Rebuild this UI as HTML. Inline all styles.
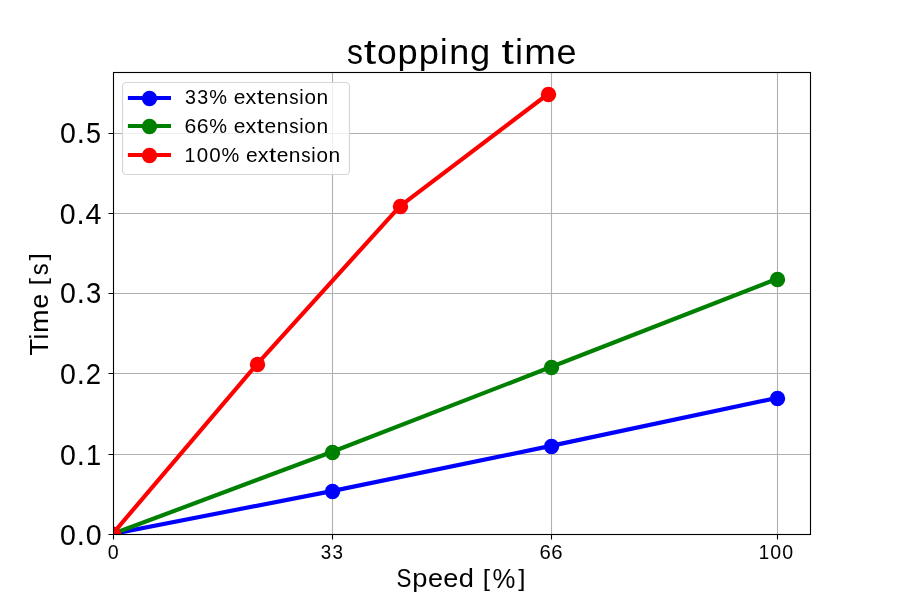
<!DOCTYPE html>
<html><head><meta charset="utf-8"><title>stopping time</title>
<style>html,body{margin:0;padding:0;background:#fff;}body{width:900px;height:600px;overflow:hidden;}svg{display:block;will-change:transform;}text{font-family:"Liberation Sans",sans-serif;fill:#000;}</style></head><body>
<svg width="900" height="600" viewBox="0 0 900 600">
<defs><clipPath id="ax"><rect x="113" y="72" width="697" height="462"/></clipPath></defs>
<rect x="0" y="0" width="900" height="600" fill="#fff"/>
<path d="M332.5 72V534 M551.5 72V534 M777.5 72V534 M113 454.5H810 M113 373.5H810 M113 293.5H810 M113 213.5H810 M113 133.5H810" stroke="#b0b0b0" stroke-width="1.11" fill="none"/>
<path d="M113.5 534V539.5 M332.5 534V539.5 M551.5 534V539.5 M777.5 534V539.5 M108.5 534.5H114 M108.5 454.5H114 M108.5 373.5H114 M108.5 293.5H114 M108.5 213.5H114 M108.5 133.5H114" stroke="#000" stroke-width="1.11" fill="none"/>
<g clip-path="url(#ax)">
<path d="M112.5 534 L331.714 491.148 L550.929 445.904 L776.786 397.977" stroke="#0000ff" stroke-width="4.1667" fill="none" stroke-linejoin="round" stroke-linecap="square"/>
<circle cx="113.5" cy="534.5" r="7.72" fill="#0000ff"/>
<circle cx="332.5" cy="491.5" r="7.72" fill="#0000ff"/>
<circle cx="551.5" cy="446.5" r="7.72" fill="#0000ff"/>
<circle cx="777.5" cy="398.5" r="7.72" fill="#0000ff"/>
<path d="M112.5 534 L331.714 451.998 L550.929 367.001 L776.786 278.953" stroke="#008000" stroke-width="4.1667" fill="none" stroke-linejoin="round" stroke-linecap="square"/>
<circle cx="113.5" cy="534.5" r="7.72" fill="#008000"/>
<circle cx="332.5" cy="452.5" r="7.72" fill="#008000"/>
<circle cx="551.5" cy="367.5" r="7.72" fill="#008000"/>
<circle cx="777.5" cy="279.5" r="7.72" fill="#008000"/>
<path d="M112.5 534 L257.049 364.046 L400.069 206.047 L548.072 94" stroke="#ff0000" stroke-width="4.1667" fill="none" stroke-linejoin="round" stroke-linecap="square"/>
<circle cx="113.5" cy="534.5" r="7.72" fill="#ff0000"/>
<circle cx="257.5" cy="364.5" r="7.72" fill="#ff0000"/>
<circle cx="400.5" cy="206.5" r="7.72" fill="#ff0000"/>
<circle cx="548.5" cy="94.5" r="7.72" fill="#ff0000"/>
</g>
<rect x="113.5" y="72.5" width="697" height="462" fill="none" stroke="#000" stroke-width="1.11"/>
<rect x="122.5" y="82.5" width="227" height="92" rx="3.9" ry="3.9" fill="#fff" fill-opacity="0.8" stroke="#d6d6d6" stroke-width="1.2"/>
<path d="M127.9 98.0H171" stroke="#0000ff" stroke-width="4.1667"/>
<circle cx="149.5" cy="98.5" r="7.72" fill="#0000ff"/>
<path d="M127.9 126.0H171" stroke="#008000" stroke-width="4.1667"/>
<circle cx="149.5" cy="126.5" r="7.72" fill="#008000"/>
<path d="M127.9 155.0H171" stroke="#ff0000" stroke-width="4.1667"/>
<circle cx="149.5" cy="155.5" r="7.72" fill="#ff0000"/>
<g font-size="33.333"><text transform="matrix(0.959 0 0 1.051 347.011 64.255)">s</text><text transform="matrix(1.337 0 0 1.073 363.681 63.846)">t</text><text transform="matrix(1.063 0 0 1.048 376.88 64.256)">o</text><text transform="matrix(1.088 0 0 1.031 397.613 63.928)">p</text><text transform="matrix(1.088 0 0 1.031 418.772 63.928)">p</text><text transform="matrix(1.022 0 0 1.049 440.102 64.125)">i</text><text transform="matrix(1.078 0 0 1.041 449.142 64.125)">n</text><text transform="matrix(1.087 0 0 1.032 469.945 63.919)">g</text><text transform="matrix(1.337 0 0 1.073 501.602 63.846)">t</text><text transform="matrix(1.022 0 0 1.049 515.313 64.125)">i</text><text transform="matrix(1.139 0 0 1.041 524.217 64.125)">m</text><text transform="matrix(1.08 0 0 1.048 556.492 64.256)">e</text></g>
<g font-size="25"><text transform="matrix(0.894 0 0 1.068 396.485 587.487)">S</text><text transform="matrix(1.091 0 0 1.031 412.276 587.247)">p</text><text transform="matrix(1.083 0 0 1.048 427.898 587.492)">e</text><text transform="matrix(1.083 0 0 1.048 443.318 587.492)">e</text><text transform="matrix(1.09 0 0 1.054 458.743 587.491)">d</text><text transform="matrix(1.044 0 0 0.957 482.672 585.728)">[</text><text transform="matrix(1.029 0 0 1.081 492.623 587.59)">%</text><text transform="matrix(1.044 0 0 0.957 518.203 585.728)">]</text></g>
<g transform="rotate(-90)" font-size="25"><text transform="matrix(1.091 0 0 1.06 -355.41 47.996)">T</text><text transform="matrix(1.022 0 0 1.049 -339.576 47.996)">i</text><text transform="matrix(1.139 0 0 1.041 -332.898 47.996)">m</text><text transform="matrix(1.08 0 0 1.048 -308.692 48.094)">e</text><text transform="matrix(1.042 0 0 0.957 -285.305 46.33)">[</text><text transform="matrix(0.959 0 0 1.051 -275.155 48.094)">s</text><text transform="matrix(1.042 0 0 0.957 -260.592 46.33)">]</text></g>
<g font-size="27.778"><text transform="matrix(1.028 0 0 1.068 59.885 544.932)">0</text><text transform="matrix(1.055 0 0 1.16 76.666 544.829)">.</text><text transform="matrix(1.028 0 0 1.068 85.725 544.932)">0</text></g>
<g font-size="27.778"><text transform="matrix(1.028 0 0 1.068 59.885 464.72)">0</text><text transform="matrix(1.055 0 0 1.16 76.666 464.616)">.</text><text transform="matrix(0.982 0 0 1.06 85.954 464.616)">1</text></g>
<g font-size="27.778"><text transform="matrix(1.028 0 0 1.068 60.085 383.728)">0</text><text transform="matrix(1.055 0 0 1.16 76.866 383.624)">.</text><text transform="matrix(0.991 0 0 1.063 85.855 383.624)">2</text></g>
<g font-size="27.778"><text transform="matrix(1.028 0 0 1.068 59.885 303.334)">0</text><text transform="matrix(1.055 0 0 1.16 76.666 303.231)">.</text><text transform="matrix(0.987 0 0 1.068 86.074 303.334)">3</text></g>
<g font-size="27.778"><text transform="matrix(1.028 0 0 1.068 59.685 223.72)">0</text><text transform="matrix(1.055 0 0 1.16 76.466 223.616)">.</text><text transform="matrix(1.028 0 0 1.06 85.522 223.616)">4</text></g>
<g font-size="27.778"><text transform="matrix(1.028 0 0 1.068 59.885 143.32)">0</text><text transform="matrix(1.055 0 0 1.16 76.666 143.216)">.</text><text transform="matrix(0.97 0 0 1.065 86.066 143.321)">5</text></g>
<g font-size="18.584"><text transform="matrix(1.054 0 0 1.068 107.82 559.121)">0</text></g>
<g font-size="18.584"><text transform="matrix(1.012 0 0 1.068 320.78 559.114)">3</text><text transform="matrix(1.012 0 0 1.068 332.604 559.114)">3</text></g>
<g font-size="18.584"><text transform="matrix(1.091 0 0 1.068 539.498 559.112)">6</text><text transform="matrix(1.091 0 0 1.068 551.322 559.112)">6</text></g>
<g font-size="18.584"><text transform="matrix(1.007 0 0 1.06 758.644 559.031)">1</text><text transform="matrix(1.054 0 0 1.068 770.311 559.1)">0</text><text transform="matrix(1.054 0 0 1.068 782.135 559.1)">0</text></g>
<g font-size="19.444"><text transform="matrix(1.012 0 0 1.068 184.946 103.845)">3</text><text transform="matrix(1.012 0 0 1.068 197.317 103.845)">3</text><text transform="matrix(1.027 0 0 1.081 209.318 103.925)">%</text><text transform="matrix(1.08 0 0 1.048 233.794 103.849)">e</text><text transform="matrix(1.109 0 0 1.035 245.552 103.773)">x</text><text transform="matrix(1.337 0 0 1.073 256.87 103.61)">t</text><text transform="matrix(1.08 0 0 1.048 264.545 103.849)">e</text><text transform="matrix(1.078 0 0 1.041 276.701 103.773)">n</text><text transform="matrix(0.959 0 0 1.051 289.186 103.849)">s</text><text transform="matrix(1.022 0 0 1.049 299.284 103.773)">i</text><text transform="matrix(1.063 0 0 1.048 304.388 103.849)">o</text><text transform="matrix(1.078 0 0 1.041 316.453 103.773)">n</text></g>
<g font-size="19.444"><text transform="matrix(1.091 0 0 1.068 184.451 132.845)">6</text><text transform="matrix(1.091 0 0 1.068 196.822 132.845)">6</text><text transform="matrix(1.027 0 0 1.081 209.273 132.925)">%</text><text transform="matrix(1.08 0 0 1.048 233.749 132.849)">e</text><text transform="matrix(1.109 0 0 1.035 245.507 132.773)">x</text><text transform="matrix(1.337 0 0 1.073 256.825 132.61)">t</text><text transform="matrix(1.08 0 0 1.048 264.5 132.849)">e</text><text transform="matrix(1.078 0 0 1.041 276.656 132.773)">n</text><text transform="matrix(0.959 0 0 1.051 289.141 132.849)">s</text><text transform="matrix(1.022 0 0 1.049 299.239 132.773)">i</text><text transform="matrix(1.063 0 0 1.048 304.343 132.849)">o</text><text transform="matrix(1.078 0 0 1.041 316.408 132.773)">n</text></g>
<g font-size="19.444"><text transform="matrix(1.007 0 0 1.06 184.578 161.773)">1</text><text transform="matrix(1.054 0 0 1.068 196.785 161.845)">0</text><text transform="matrix(1.054 0 0 1.068 209.156 161.845)">0</text><text transform="matrix(1.027 0 0 1.081 221.407 161.925)">%</text><text transform="matrix(1.08 0 0 1.048 245.883 161.849)">e</text><text transform="matrix(1.109 0 0 1.035 257.641 161.773)">x</text><text transform="matrix(1.337 0 0 1.073 268.958 161.61)">t</text><text transform="matrix(1.08 0 0 1.048 276.634 161.849)">e</text><text transform="matrix(1.078 0 0 1.041 288.79 161.773)">n</text><text transform="matrix(0.959 0 0 1.051 301.275 161.849)">s</text><text transform="matrix(1.022 0 0 1.049 311.372 161.773)">i</text><text transform="matrix(1.063 0 0 1.048 316.477 161.849)">o</text><text transform="matrix(1.078 0 0 1.041 328.542 161.773)">n</text></g>
</svg>
</body></html>
